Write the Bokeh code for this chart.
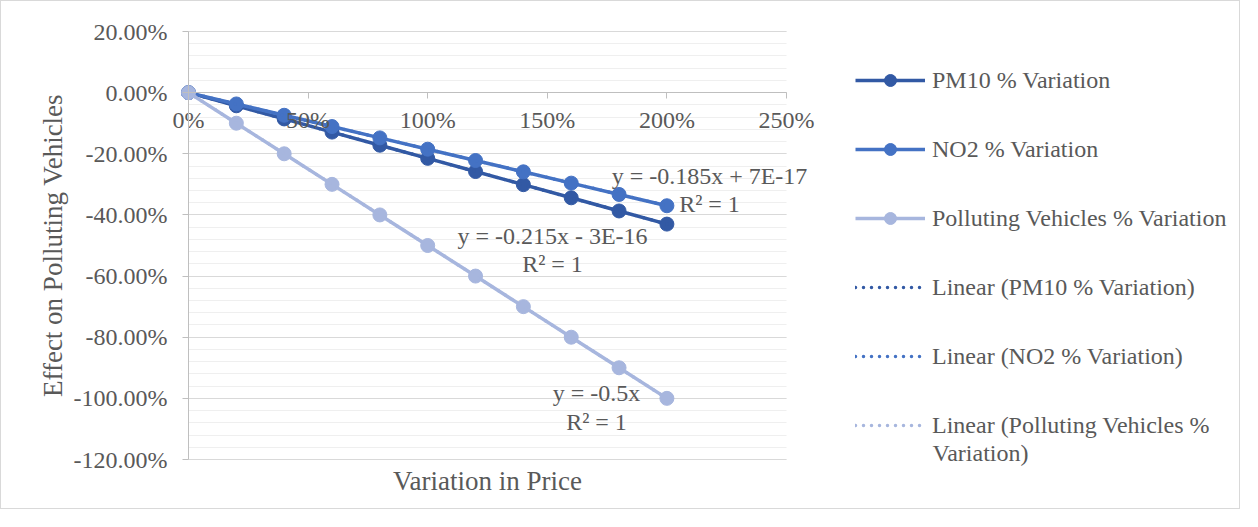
from bokeh.plotting import figure
from bokeh.models import (Range1d, FixedTicker, NumeralTickFormatter,
                          Legend, LegendItem, Label)
from bokeh.embed import file_html
from bokeh.resources import INLINE
import numpy as np

# ---- data ----
price_var = [0.0, 0.2, 0.4, 0.6, 0.8, 1.0, 1.2, 1.4, 1.6, 1.8, 2.0]
pm10_var = [0.0, -0.043, -0.086, -0.129, -0.172, -0.215, -0.258, -0.301, -0.344, -0.387, -0.430]
no2_var = [0.0, -0.037, -0.074, -0.111, -0.148, -0.185, -0.222, -0.259, -0.296, -0.333, -0.370]
veh_var = [0.0, -0.1, -0.2, -0.3, -0.4, -0.5, -0.6, -0.7, -0.8, -0.9, -1.0]

x_ticks = [0.0, 0.5, 1.0, 1.5, 2.0, 2.5]
y_ticks = [-1.2, -1.0, -0.8, -0.6, -0.4, -0.2, 0.0, 0.2]

series_names = ["PM10 % Variation", "NO2 % Variation", "Polluting Vehicles % Variation"]
trend_names = ["Linear (PM10 % Variation)", "Linear (NO2 % Variation)",
               "Linear (Polluting Vehicles %"]
trend_name_cont = "Variation)"
eq_texts = [("y = -0.215x - 3E-16", "R\u00b2 = 1"),
            ("y = -0.185x + 7E-17", "R\u00b2 = 1"),
            ("y = -0.5x", "R\u00b2 = 1")]

colors = ["#3259A4", "#4472C4", "#A7B6DE"]
FONT = "Liberation Serif"
TXT = "#595959"
FS = "24px"
FS_TITLE = "27px"

# ---- geometry: frame covers the whole figure; axes sit at fixed locations ----
W, H = 1240, 509
X0_PX, X1_PX = 187, 785      # pixel positions of 0% and 250%
YT_PX, YB_PX = 30, 458       # pixel positions of +20% and -120% (from top)
sx = (X1_PX - X0_PX) / (x_ticks[-1] - x_ticks[0])
sy = (YB_PX - YT_PX) / (y_ticks[-1] - y_ticks[0])
x_rng = Range1d(x_ticks[0] - X0_PX / sx, x_ticks[-1] + (W - X1_PX) / sx)
y_rng = Range1d(y_ticks[0] - (H - YB_PX) / sy, y_ticks[-1] + YT_PX / sy)

p = figure(width=W, height=H, x_range=x_rng, y_range=y_rng,
           output_backend="svg", toolbar_location=None, min_border=0)
p.styles = {"border": "1px solid #D9D9D9"}
p.outline_line_color = None
p.background_fill_color = "white"
p.border_fill_color = "white"

minor = [round(v, 2) for v in np.arange(-1.2, 0.2001, 0.04)]

xa = p.xaxis[0]
xa.fixed_location = 0
xa.bounds = (x_ticks[0], x_ticks[-1])
xa.ticker = FixedTicker(ticks=x_ticks)
xa.formatter = NumeralTickFormatter(format="0%")
ya = p.yaxis[0]
ya.fixed_location = 0
ya.bounds = (y_ticks[0], y_ticks[-1])
ya.ticker = FixedTicker(ticks=y_ticks, minor_ticks=minor)
ya.formatter = NumeralTickFormatter(format="0.00%")
ya.axis_label = "Effect on Polluting Vehicles"
ya.axis_label_standoff = 3
for ax in (xa, ya):
    ax.axis_line_color = "#BFBFBF"
    ax.major_tick_line_color = "#BFBFBF"
    ax.minor_tick_line_color = None
    ax.major_tick_in = 0
    ax.major_tick_out = 6
    ax.major_label_text_font = FONT
    ax.major_label_text_font_size = FS
    ax.major_label_text_color = TXT
    ax.axis_label_text_font = FONT
    ax.axis_label_text_font_size = FS_TITLE
    ax.axis_label_text_color = TXT
    ax.axis_label_text_font_style = "normal"
xa.major_label_standoff = 8
ya.major_label_standoff = 15

p.xgrid.grid_line_color = None
yg = p.ygrid[0]
yg.ticker = FixedTicker(ticks=y_ticks, minor_ticks=minor)
yg.bounds = (y_ticks[0], y_ticks[-1])
yg.cross_bounds = (x_ticks[0], x_ticks[-1])
yg.grid_line_color = "#D9D9D9"
yg.minor_grid_line_color = "#EFEFEF"

# ---- series + linear trendlines ----
items = []
trend_items = []
for ys, col, name, tname in zip([pm10_var, no2_var, veh_var], colors, series_names, trend_names):
    rl = p.line(price_var, ys, line_color=col, line_width=3.5)
    rs = p.scatter(price_var, ys, size=14, fill_color=col, line_color=col)
    items.append(LegendItem(label=name, renderers=[rl, rs]))
    slope, icpt = np.polyfit(price_var, ys, 1)
    xt = [price_var[0], price_var[-1]]
    yt = [slope * v + icpt for v in xt]
    rt = p.line(xt, yt, line_color=col, line_width=3.5, line_dash="0 8", line_cap="round")
    trend_items.append(LegendItem(label=tname, renderers=[rt]))

legend = Legend(items=items + trend_items, location=(854, 70), orientation="vertical",
                glyph_width=70, glyph_height=30, label_height=30, label_standoff=7,
                spacing=39, padding=0, margin=0, border_line_alpha=0,
                background_fill_alpha=0, label_text_font=FONT,
                label_text_font_size=FS, label_text_color=TXT)
p.add_layout(legend)

def add_label(text, x, y, align="center", size=FS):
    p.add_layout(Label(x=x, y=y, x_units="screen", y_units="screen", text=text,
                       text_align=align, text_baseline="middle", text_font=FONT,
                       text_font_size=size, text_color=TXT))

add_label(trend_name_cont, 931, 58, align="left")
add_label("Variation in Price", 486, 30, size=FS_TITLE)

eq_pos = [(551, 275, 247), (708, 335, 307), (595, 118, 89)]
for (l1, l2), (ex, ey1, ey2) in zip(eq_texts, eq_pos):
    add_label(l1, ex, ey1)
    add_label(l2, ex, ey2)

open("out.html", "w").write(file_html(p, INLINE))
